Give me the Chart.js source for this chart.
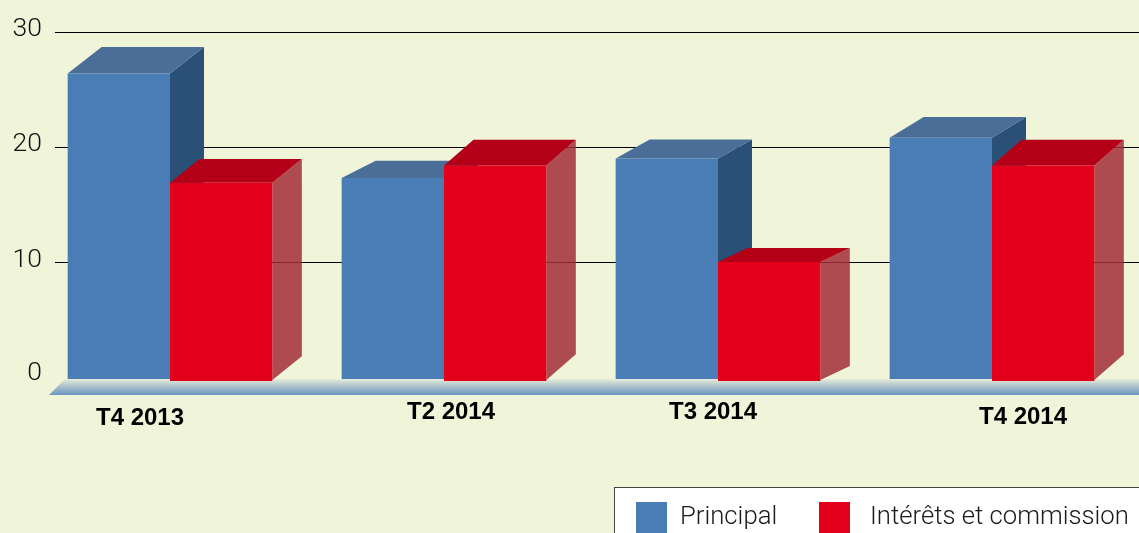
<!DOCTYPE html>
<html lang="fr">
<head>
<meta charset="utf-8">
<title>Principal et intérêts</title>
<style>
html,body{margin:0;padding:0;background:#f0f4d9;overflow:hidden}
canvas{display:block}
</style>
<script src="https://cdn.jsdelivr.net/npm/chart.js@4/dist/chart.umd.js"></script>
</head>
<body>
<canvas id="c" width="1139" height="533"></canvas>
<script>
const categories = ["T4 2013", "T2 2014", "T3 2014", "T4 2014"];
const principal = [26.4, 17.3, 19.0, 20.8];
const interets = [16.9, 18.4, 10.0, 18.4];
const yTicks = [0, 10, 20, 30];
const seriesNames = ["Principal", "Intérêts et commission"];

const FONT_LIGHT = "Roboto, 'Liberation Sans', sans-serif";
const COLORS = {
  bg: "#f0f4d9",
  blue: "#4a7cb5", blueTop: "#4a6e98", blueSide: "#2a5078",
  red: "#e2001a", redTop: "#b30017", redSide: "rgba(162,45,56,0.85)"
};
const Y_MIN = -0.348, Y_MAX = 30;

function poly(ctx, pts, fill) {
  ctx.beginPath();
  pts.forEach((p, i) => i ? ctx.lineTo(p[0], p[1]) : ctx.moveTo(p[0], p[1]));
  ctx.closePath();
  ctx.fillStyle = fill;
  ctx.fill();
}

function drawFaces(chart, index) {
  const { ctx } = chart;
  const isBlue = index === 0;
  const values = isBlue ? principal : interets;
  const k = isBlue ? 1 : 1.4;
  const dx = isBlue ? 34 : 29.5;
  ctx.save();
  chart.getDatasetMeta(index).data.forEach((bar, i) => {
    const l = bar.x - bar.width / 2, r = bar.x + bar.width / 2, t = bar.y;
    const b = bar.base - 1;
    const dy = values[i] * k;
    poly(ctx, [[r, t], [r + dx, t - dy], [r + dx, b - dy], [r, b]], isBlue ? COLORS.blueSide : COLORS.redSide);
    poly(ctx, [[l, t], [l + dx, t - dy], [r + dx, t - dy], [r, t]], isBlue ? COLORS.blueTop : COLORS.redTop);
  });
  ctx.restore();
}

const scene = {
  id: "scene",
  beforeDraw(chart) {
    const { ctx, scales: { x, y } } = chart;
    // axis labels: shift the library's own label items to the reference's places
    const xShift = [[-30, 37], [7, 31], [-5, 31], [31, 36]];
    x.getLabelItems(chart.chartArea).forEach((it, i) => {
      it.options.translation = [x.getPixelForTick(i) + xShift[i][0], y.bottom + xShift[i][1]];
      it.options.textBaseline = "middle";
      it.textOffset = 0;
    });
    y.getLabelItems(chart.chartArea).forEach((it, i) => {
      const v = y.ticks[i].value;
      it.options.textAlign = "right";
      it.options.textBaseline = "middle";
      it.textOffset = 0;
      it.options.translation = [42, y.getPixelForValue(v) - (v === 0 ? 4 : v === 10 ? 2 : 2.5)];
    });
    // grid lines
    ctx.save();
    ctx.strokeStyle = "#000";
    ctx.lineWidth = 1.2;
    yTicks.filter(v => v > 0).forEach(v => {
      const py = Math.round(y.getPixelForValue(v)) + 0.5;
      ctx.beginPath(); ctx.moveTo(55, py); ctx.lineTo(chart.width, py); ctx.stroke();
    });
    // floor band
    const top = y.bottom - 2, bot = top + 16;
    const g = ctx.createLinearGradient(0, top, 0, bot);
    g.addColorStop(0, "#e6ecd9");
    g.addColorStop(0.45, "#adc3cc");
    g.addColorStop(1, "#6c95c0");
    poly(ctx, [[49, bot], [65, top], [chart.width, top], [chart.width, bot]], g);
    ctx.restore();
  },
  beforeDatasetsDraw(chart) {
    drawFaces(chart, 0);
    drawFaces(chart, 1);
  },
  afterDraw(chart) {
    const { ctx } = chart;
    ctx.save();
    ctx.fillStyle = "#ffffff";
    ctx.strokeStyle = "#444";
    ctx.lineWidth = 1;
    ctx.fillRect(614.5, 487.5, 530, 50);
    ctx.strokeRect(614.5, 487.5, 530, 50);
    ctx.font = "300 25.7px " + FONT_LIGHT;
    ctx.textBaseline = "middle";
    const swatchX = [636, 819], textX = [680, 870];
    chart.data.datasets.forEach((ds, i) => {
      ctx.fillStyle = ds.backgroundColor;
      ctx.fillRect(swatchX[i], 502, 31, 31);
      ctx.fillStyle = "#1a1a1a";
      ctx.fillText(ds.label, textX[i], 518);
    });
    ctx.restore();
  }
};

new Chart(document.getElementById("c"), {
  type: "bar",
  data: {
    labels: categories,
    datasets: [
      { label: seriesNames[0], data: principal, backgroundColor: COLORS.blue, base: -0.174 },
      { label: seriesNames[1], data: interets, backgroundColor: COLORS.red, base: Y_MIN }
    ]
  },
  options: {
    responsive: false,
    animation: false,
    events: [],
    layout: { padding: { top: 32, right: 10, left: 0, bottom: 0 } },
    datasets: { bar: { categoryPercentage: 0.747, barPercentage: 1, clip: false, borderWidth: 0 } },
    plugins: { legend: { display: false }, title: { display: false }, tooltip: { enabled: false } },
    scales: {
      x: {
        grid: { display: false },
        border: { display: false },
        ticks: {
          autoSkip: false, maxRotation: 0, minRotation: 0, color: "#000",
          font: { family: "'Liberation Sans', Arial, sans-serif", size: 24, weight: "bold" }
        },
        afterFit(s) { s.height = 152; }
      },
      y: {
        min: Y_MIN, max: Y_MAX,
        grid: { display: false },
        border: { display: false },
        afterBuildTicks(s) { s.ticks = yTicks.map(value => ({ value })); },
        ticks: {
          mirror: true,
          color: "#111",
          font: { family: FONT_LIGHT, size: 26.5, weight: "300" }
        },
        afterFit(s) { s.width = 33; }
      }
    }
  },
  plugins: [scene]
});
</script>
</body>
</html>
